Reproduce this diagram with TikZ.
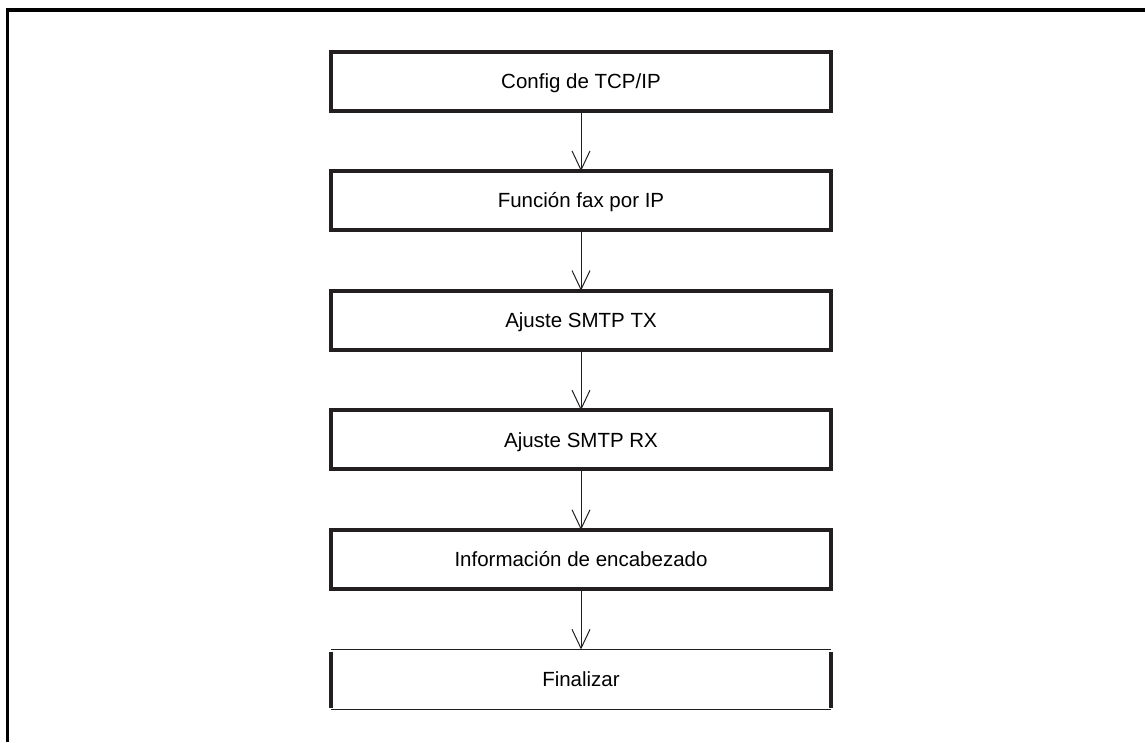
\documentclass[tikz,border=0pt]{standalone}
\usepackage{fontspec}
\setmainfont{Liberation Sans}
\usepackage{xcolor}
\definecolor{FlowInk}{HTML}{231F20}
\usetikzlibrary{arrows.meta,positioning}

\begin{document}
\begin{tikzpicture}[x=1pt,y=-1pt,
    stepbox/.style={draw=FlowInk,line width=4pt,minimum width=500pt,minimum height=59pt,outer sep=0pt,
      text height=14.6pt,text depth=0pt,font=\fontsize{20.5}{24}\selectfont},
    endbox/.style={minimum width=500pt,minimum height=60pt,outer sep=0pt,
      text height=14.6pt,text depth=0pt,font=\fontsize{20.5}{24}\selectfont},
    flow/.style={-{Straight Barb[length=19pt,width=18pt]},line width=1pt,color=FlowInk}
  ]
    \useasboundingbox (0,0) rectangle (1145,742);
    % page frame
    \draw[line width=3.5pt] (7.5,742) -- (7.5,10) -- (1145,10);
    \node[stepbox] (tcpip) at (581,81) {Config de TCP/IP};
    \node[stepbox,below=60.6pt of tcpip] (ipfax) {Función fax por IP};
    \node[stepbox,below=60.6pt of ipfax] (smtptx) {Ajuste SMTP TX};
    \node[stepbox,below=60.6pt of smtptx] (smtprx) {Ajuste SMTP RX};
    \node[stepbox,below=60.6pt of smtprx] (header) {Información de encabezado};
    \node[endbox,below=60.6pt of header] (finish) {Finalizar};
    \draw[FlowInk,line width=1.2pt] (finish.north west) -- (finish.north east);
    \draw[FlowInk,line width=1.8pt] (finish.south west) -- (finish.south east);
    \draw[FlowInk,line width=4pt] ([yshift=-2pt]finish.north west) -- ([yshift=2pt]finish.south west);
    \draw[FlowInk,line width=4pt] ([yshift=-2pt]finish.north east) -- ([yshift=2pt]finish.south east);
    \draw[flow] (tcpip) -- (ipfax);
    \draw[flow] (ipfax) -- (smtptx);
    \draw[flow] (smtptx) -- (smtprx);
    \draw[flow] (smtprx) -- (header);
    \draw[flow] (header) -- (finish);
  \end{tikzpicture}
\end{document}
